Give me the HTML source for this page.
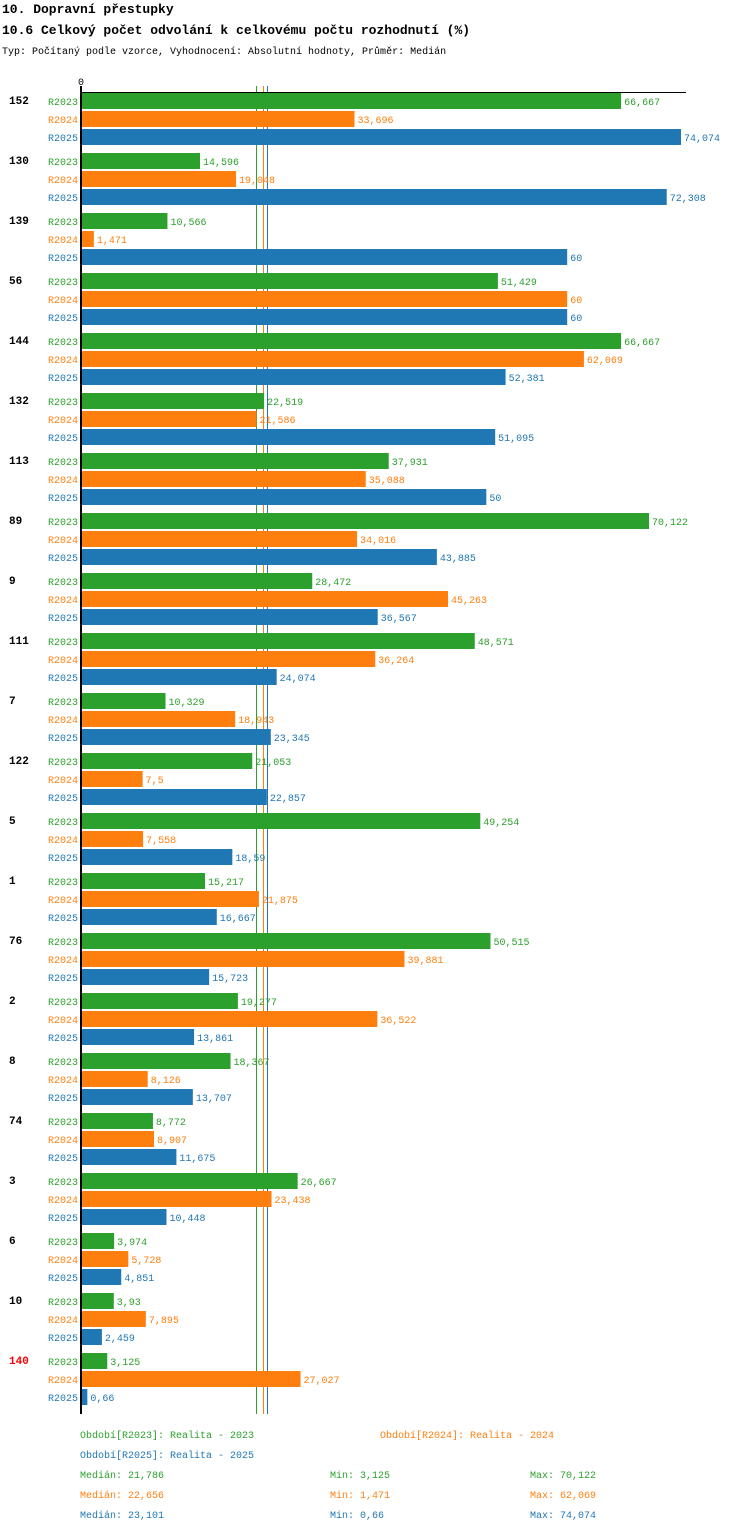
<!DOCTYPE html>
<html><head><meta charset="utf-8">
<style>
body{margin:0;background:#fff;width:750px;height:1532px;overflow:hidden;font-family:"Liberation Mono",monospace;}
svg text{font-family:"Liberation Mono",monospace;}
</style></head><body>
<svg id="c" width="750" height="1532" xmlns="http://www.w3.org/2000/svg">
<text x="2" y="13" font-size="13" font-weight="bold">10. Dopravní přestupky</text>
<text x="2" y="34" font-size="13" font-weight="bold">10.6 Celkový počet odvolání k celkovému počtu rozhodnutí (%)</text>
<text x="2" y="54" font-size="10">Typ: Počítaný podle vzorce, Vyhodnocení: Absolutní hodnoty, Průměr: Medián</text>
<g id="plot"></g>
</svg>
<script>
const categories=["152","130","139","56","144","132","113","89","9","111","7","122","5","1","76","2","8","74","3","6","10","140"];
const r2023=[66.667,14.596,10.566,51.429,66.667,22.519,37.931,70.122,28.472,48.571,10.329,21.053,49.254,15.217,50.515,19.277,18.367,8.772,26.667,3.974,3.93,3.125];
const r2024=[33.696,19.048,1.471,60,62.069,21.586,35.088,34.016,45.263,36.264,18.943,7.5,7.558,21.875,39.881,36.522,8.126,8.907,23.438,5.728,7.895,27.027];
const r2025=[74.074,72.308,60,60,52.381,51.095,50,43.885,36.567,24.074,23.345,22.857,18.59,16.667,15.723,13.861,13.707,11.675,10.448,4.851,2.459,0.66];
const seriesNames=["R2023","R2024","R2025"];
const medians=[21.786,22.656,23.101];
const mins=[3.125,1.471,0.66];
const maxs=[70.122,62.069,74.074];
const colors=["#2ca02c","#ff7f0e","#1f77b4"];
const NS="http://www.w3.org/2000/svg";
const g=document.getElementById('plot');
const x0=82,k=599/74.074,top0=92,gh=60;
const X=v=>x0+v*k;
function el(t,a,txt){const e=document.createElementNS(NS,t);for(const n in a)e.setAttribute(n,a[n]);if(txt!==undefined)e.textContent=txt;g.appendChild(e);return e;}
const fmt=v=>String(v).replace('.',',');
const series=[r2023,r2024,r2025];
const bottom=top0+categories.length*gh;
medians.forEach((m,j)=>{
  const l=el('line',{x1:Math.round(X(m))-1.5,x2:Math.round(X(m))-1.5,y1:86,y2:bottom+2,stroke:colors[j],'stroke-width':1});
  
  
});
categories.forEach((c,i)=>{
  const gy=top0+i*gh;
  const t=el('text',{x:9,y:gy+12,'font-size':11,'font-weight':'bold',fill:c==="140"?"#ff0000":"#000"},c);
  
  
  series.forEach((s,j)=>{
    const by=gy+1+j*18;
    const l=el('text',{x:78,y:by+12,'font-size':10,fill:colors[j],'text-anchor':'end'},seriesNames[j]);
    
    
    const r=el('rect',{x:x0,y:by,width:Math.max(0,X(s[i])-x0),height:16,fill:colors[j]});
    
    
    const v=el('text',{x:X(s[i])+3,y:by+12,'font-size':10,fill:colors[j]},fmt(s[i]));
    
    
  });
});
const ax=el('line',{x1:81,x2:81,y1:86,y2:bottom+2,stroke:'#000','stroke-width':2});


const hx=el('line',{x1:80,x2:686,y1:92.5,y2:92.5,stroke:'#000','stroke-width':1});


const z=el('text',{x:81,y:85,'font-size':10,'text-anchor':'middle'},'0');


const legend=[["Období[R2023]: Realita - 2023",80,1438,0],["Období[R2024]: Realita - 2024",380,1438,1],["Období[R2025]: Realita - 2025",80,1458,2]];
legend.forEach(a=>{const t=el('text',{x:a[1],y:a[2],'font-size':10,fill:colors[a[3]]},a[0]);
  
  });
[0,1,2].forEach(j=>{const y=1478+j*20;
  const a=el('text',{x:80,y:y,'font-size':10,fill:colors[j]},'Medián: '+fmt(medians[j]));
  
  
  const b=el('text',{x:330,y:y,'font-size':10,fill:colors[j]},'Min: '+fmt(mins[j]));
  
  
  const c=el('text',{x:530,y:y,'font-size':10,fill:colors[j]},'Max: '+fmt(maxs[j]));
  
  
});
</script>
</body></html>
